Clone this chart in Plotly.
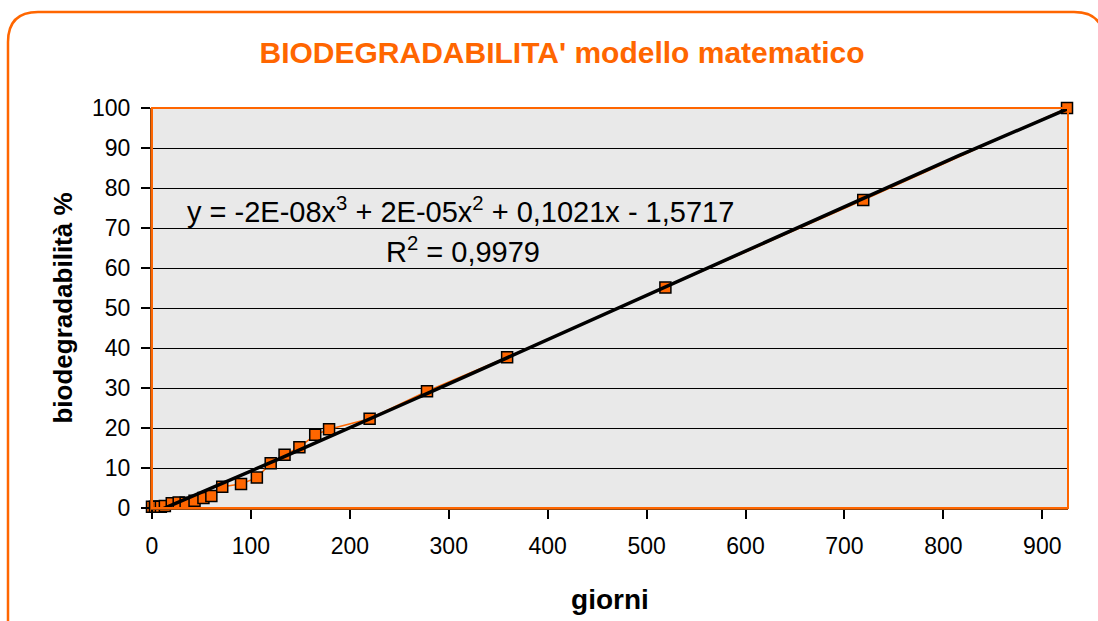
import numpy as np
import plotly.graph_objects as go

# data
giorni = [0, 3, 6, 9, 13, 20, 27, 34, 43, 52, 60, 71, 90, 106, 120, 134, 149, 165, 179, 220, 278, 359, 519, 719, 925]
biodeg = [0.3, 0.3, 0.3, 0.3, 0.5, 1.2, 1.4, 1.3, 1.8, 2.5, 3.0, 5.3, 6.0, 7.6, 11.2, 13.3, 15.2, 18.3, 19.7, 22.3, 29.2, 37.7, 55.1, 77.0, 100.0]

x_ticks = list(range(0, 1000, 100))
y_ticks = list(range(0, 110, 10))

title_text = "BIODEGRADABILITA' modello matematico"
eq_text = "y = -2E-08x<sup>3</sup> + 2E-05x<sup>2</sup> + 0,1021x - 1,5717"
r2_text = "R<sup>2</sup> = 0,9979"

# cubic trend fitted to the data
coef = np.polyfit(giorni, biodeg, 3)
xt = np.linspace(0, max(giorni), 300)
yt = np.polyval(coef, xt)

ORANGE = "#FF6600"
FONT = "Arial, Liberation Sans, sans-serif"

fig = go.Figure()
fig.add_trace(go.Scatter(
    x=giorni, y=biodeg, mode="lines+markers",
    line=dict(color=ORANGE, width=1.5),
    marker=dict(symbol="square", size=11, color=ORANGE, line=dict(color="black", width=1.5)),
    showlegend=False, cliponaxis=False))
fig.add_trace(go.Scatter(
    x=xt, y=yt, mode="lines", line=dict(color="black", width=3.5),
    showlegend=False))

# layout geometry (pixels)
W, H = 1098, 621
L, R, T, B = 152, 1068, 108, 508
pw, ph = R - L, B - T
def PX(px):
    return (px - L) / pw
def PY(py):
    return (B - py) / ph

# outer rounded frame
r = 30
lx, ty, rx, by = 8, 12, 1104, 660
path = (f"M {PX(lx)},{PY(by)} L {PX(lx)},{PY(ty + r)} Q {PX(lx)},{PY(ty)} {PX(lx + r)},{PY(ty)} "
        f"L {PX(rx - r)},{PY(ty)} Q {PX(rx)},{PY(ty)} {PX(rx)},{PY(ty + r)} L {PX(rx)},{PY(by)}")

shapes = [
    dict(type="path", xref="paper", yref="paper", path=path,
         line=dict(color=ORANGE, width=2.5), layer="above"),
    dict(type="rect", xref="paper", yref="paper", x0=0, y0=0, x1=1, y1=1,
         line=dict(color=ORANGE, width=2), layer="above"),
]

fig.update_layout(
    width=W, height=H,
    margin=dict(l=L, r=W - R, t=T, b=H - B),
    paper_bgcolor="white", plot_bgcolor="#e9e9e9",
    font=dict(family=FONT, color="black", size=23),
    title=dict(text=f"<b>{title_text}</b>", x=PX(562), xref="paper", xanchor="center",
               y=1 - 52 / H, yanchor="middle",
               font=dict(family=FONT, color=ORANGE, size=30)),
    shapes=shapes,
    annotations=[
        dict(text=eq_text, xref="paper", yref="paper", x=PX(185), y=PY(210),
             xanchor="left", yanchor="middle", showarrow=False,
             font=dict(family=FONT, size=29, color="black")),
        dict(text=r2_text, xref="paper", yref="paper", x=PX(384), y=PY(250),
             xanchor="left", yanchor="middle", showarrow=False,
             font=dict(family=FONT, size=29, color="black")),
    ],
    xaxis=dict(range=[0, 926], tickvals=x_ticks, ticks="outside", ticklen=9,
               tickcolor="black", tickwidth=1.5, showgrid=False, zeroline=False,
               showline=True, linecolor="#9a4a10", linewidth=2,
               tickfont=dict(size=23), ticklabelstandoff=7,
               title=dict(text="<b>giorni</b>", font=dict(size=28), standoff=32)),
    yaxis=dict(range=[0, 100], tickvals=y_ticks, ticks="outside", ticklen=9,
               tickcolor="black", tickwidth=1.5, showgrid=True, gridcolor="black",
               gridwidth=1, zeroline=False,
               showline=True, linecolor="#9a4a10", linewidth=2,
               tickfont=dict(size=23), ticklabelstandoff=6,
               title=dict(text="<b>biodegradabilità %</b>", font=dict(size=26), standoff=12)),
)

fig.write_html("out.html", config={"displayModeBar": False},
               post_script="document.body.style.margin='0';")
